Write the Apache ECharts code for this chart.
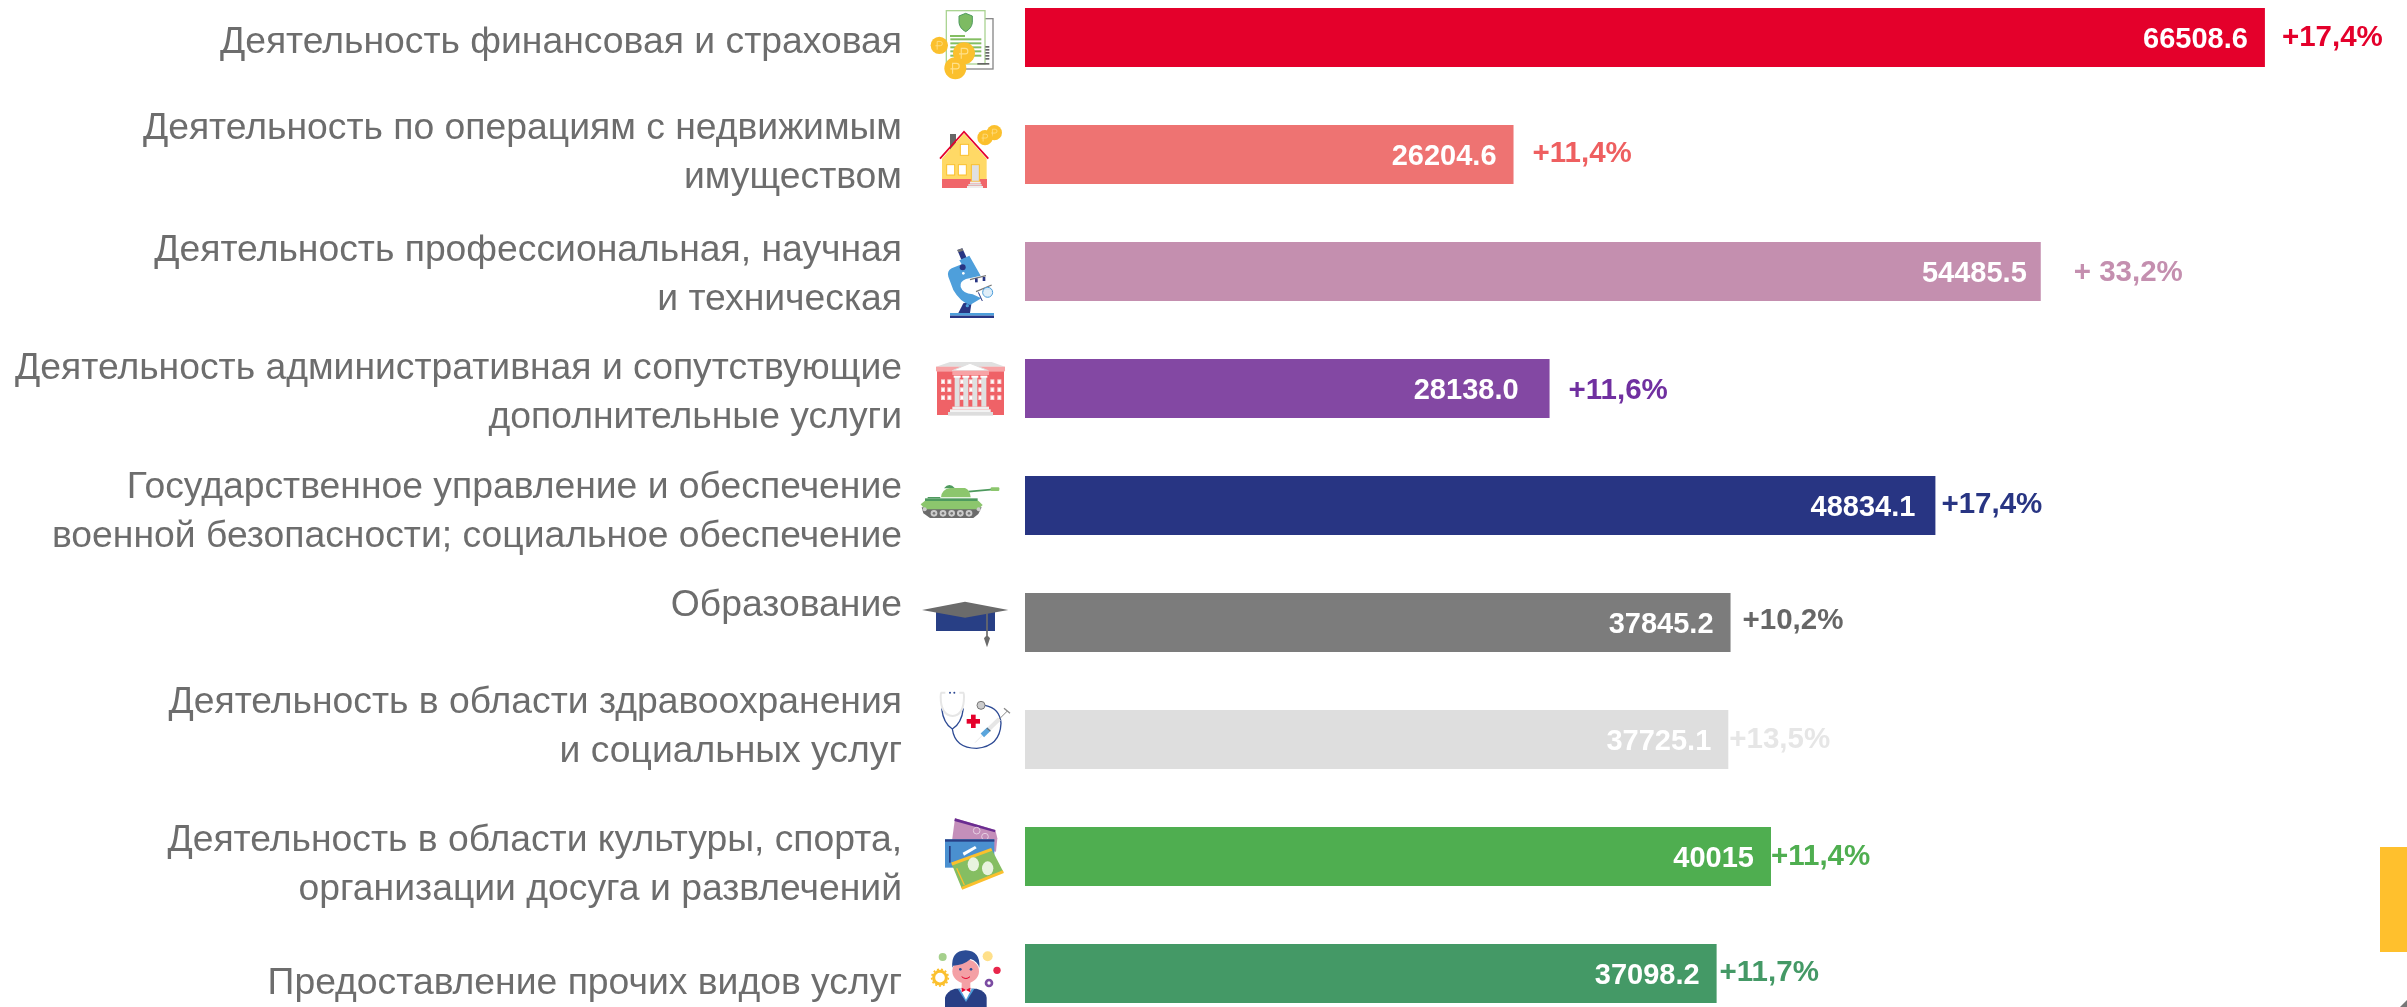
<!DOCTYPE html>
<html><head><meta charset="utf-8">
<style>html,body{margin:0;padding:0;background:#fff}#c{width:2407px;height:1007px}</style>
<script src="https://cdn.jsdelivr.net/npm/echarts@6/dist/echarts.min.js"></script>
</head><body><div id="c"></div>
<script>
const categories = [
 'Деятельность финансовая и страховая',
 'Деятельность по операциям с недвижимым\nимуществом',
 'Деятельность профессиональная, научная\nи техническая',
 'Деятельность административная и сопутствующие\nдополнительные услуги',
 'Государственное управление и обеспечение\nвоенной безопасности; социальное обеспечение',
 'Образование',
 'Деятельность в области здравоохранения\nи социальных услуг',
 'Деятельность в области культуры, спорта,\nорганизации досуга и развлечений',
 'Предоставление прочих видов услуг'
];
const values = [66508.6, 26204.6, 54485.5, 28138.0, 48834.1, 37845.2, 37725.1, 40015, 37098.2];
const valueTexts = ['66508.6','26204.6','54485.5','28138.0','48834.1','37845.2','37725.1','40015','37098.2'];
const growth = ['+17,4%','+11,4%','+ 33,2%','+11,6%','+17,4%','+10,2%','+13,5%','+11,4%','+11,7%'];
const barColors = ['#E4002B','#EE7372','#C48FAF','#8348A3','#283583','#7C7C7C','#DEDEDE','#4FAE50','#449966'];
const growthColors = ['#E4002B','#EE5F60','#C48FAF','#7030A0','#283583','#666666','#E6E6E6','#4FAE50','#449966'];

// layout offsets (pixels, relative to each bar)
const labelDy = [5,-1.5,3.5,5,6.5,-17,-12.5,8.5,10.5];
const valueGap = [17,17,14,31,20,17,17,17,17];
const growthGap = [17,19,33,19,6,12,1,0,3];
const growthDy = [0,-1,1,2,-1,-2,0,0,-1];
const iconBox = [[920,-37.5,100,100],[920,-44.5,100,100],[920,-36.5,100,100],[920,-38.5,100,100],[910,-35.5,110,60],[910,-32.5,110,60],[920,-59.5,100,100],[920,-46.5,100,100],[920,-36.5,100,70]];

const coin=(x,y,r)=>`<circle cx="${x}" cy="${y}" r="${r}" fill="#FBC02D"/><path d="M${x-r*.25} ${y+r*.5}V${y-r*.45}H${x+r*.1}a${r*.25} ${r*.25} 0 0 1 0 ${r*.5}H${x-r*.45}" fill="none" stroke="#FFE08A" stroke-width="${r*.1}"/>`;
const svg=(w,h,b)=>'data:image/svg+xml;charset=utf-8,'+encodeURIComponent(`<svg xmlns="http://www.w3.org/2000/svg" width="${w}" height="${h}" viewBox="0 0 ${w} ${h}">${b}</svg>`);
const rep=(a,f)=>a.map(f).join('');
const icons = [
 svg(300,300,`<rect x="120" y="56" width="99" height="151" fill="#fff" stroke="#888" stroke-width="4"/><rect x="79" y="32" width="116" height="160" fill="#fff" stroke="#ABD493" stroke-width="4"/>
  <path d="M137 40L157 48V68Q155 85 137 95Q119 85 117 68V48Z" fill="#7DBB62" stroke="#4E9A5E" stroke-width="3"/><rect x="90" y="105" width="45" height="6" fill="#84BE62"/>
  ${rep([115,127,139,151,164],y=>`<rect x="91" y="${y}" width="93" height="6" fill="#84BE62"/>`)}${rep([138,147,156,165,174],y=>`<rect x="196" y="${y}" width="12" height="5" fill="#666"/>`)}<rect x="172" y="189" width="36" height="5" fill="#666"/>
  ${coin(58,136,26)}${coin(106,205,33)}${coin(132,160,33)}`),
 svg(300,300,`<rect x="90" y="72" width="18" height="50" fill="#666"/><path d="M66 146L132 70L200 146V208H66Z" fill="#FFD966"/><rect x="66" y="207" width="135" height="27" fill="#F0666A"/>
  <polyline points="60,146 132,65 205,146" fill="none" stroke="#E4002B" stroke-width="5"/>
  ${rep([[121,103,25,33],[80,164,24,31],[115,164,24,31]],r=>`<rect x="${r[0]}" y="${r[1]}" width="${r[2]}" height="${r[3]}" fill="#fff" stroke="#FBC02D" stroke-width="3"/>`)}
  <rect x="154" y="164" width="24" height="50" fill="#E0E0E0" stroke="#FBC02D" stroke-width="3"/><rect x="150" y="215" width="32" height="6" fill="#eee"/><rect x="145" y="222" width="40" height="5" fill="#ddd"/><rect x="141" y="228" width="48" height="6" fill="#eee"/>${coin(223,68,23)}${coin(195,83,23)}`),
 svg(300,300,`<rect x="90" y="234" width="132" height="8" fill="#4E9FDB"/><rect x="90" y="242" width="132" height="7" fill="#283583"/><path d="M115 234L130 205L155 200L150 234Z" fill="#283583"/>
  <path d="M112 45L127 40L140 68L124 74Z" fill="#283583"/><path d="M112 45L127 40L130 47L115 52Z" fill="#777"/>
  <path d="M118 76L148 62L182 122L138 132Q118 140 122 156Q128 175 158 178L184 190L150 210Q120 200 100 165L85 125Q80 108 95 100L125 88Z" fill="#4E9FDB"/><circle cx="128" cy="97" r="9" fill="#283583"/><circle cx="130" cy="115" r="4" fill="#fff"/><circle cx="142" cy="212" r="5" fill="#4E9FDB"/>
  <line x1="150" y1="134" x2="198" y2="122" stroke="#777" stroke-width="4"/><rect x="165" y="130" width="8" height="12" fill="#283583"/><rect x="188" y="126" width="8" height="12" fill="#283583"/><line x1="168" y1="170" x2="215" y2="150" stroke="#777" stroke-width="4"/><line x1="175" y1="172" x2="187" y2="198" stroke="#283583" stroke-width="3"/><circle cx="203" cy="172" r="15" fill="#CFE5F5" stroke="#4E9FDB" stroke-width="3"/><path d="M192 168H214M190 174H216M193 180H212" stroke="#fff" stroke-width="2"/>`),
 svg(300,300,`<path d="M48 50L90 36H215L255 50Z" fill="#E0E0E0"/><rect x="48" y="50" width="207" height="14" fill="#F7A3A5"/><rect x="51" y="64" width="201" height="131" fill="#EF6267"/>
  ${rep([63,82,120,147,175,211,232],x=>rep([88,112,136],y=>`<rect x="${x}" y="${y}" width="12" height="14" fill="#FAD4D5"/><rect x="${x+3}" y="${y+3}" width="6" height="8" fill="#fff"/>`))}
  ${rep([104,130,157,184],x=>`<rect x="${x}" y="80" width="15" height="90" fill="#E0E0E0"/><rect x="${x-3}" y="77" width="21" height="6" fill="#fff"/>`)}
  <path d="M97 62L150 40L205 62Z" fill="#fff" stroke="#E0E0E0" stroke-width="3"/><rect x="97" y="62" width="110" height="13" fill="#F7A3A5"/><rect x="97" y="170" width="110" height="8" fill="#eee"/><rect x="90" y="178" width="122" height="8" fill="#f3f3f3"/><rect x="84" y="186" width="135" height="11" fill="#DDD"/>`),
 svg(330,180,`<line x1="175" y1="65" x2="250" y2="58" stroke="#4E9A5E" stroke-width="5"/><rect x="242" y="52" width="26" height="11" rx="3" fill="#8CC66D"/><path d="M102 55Q118 35 135 55Z" fill="#4E9A5E"/>
  <path d="M93 82Q95 58 120 54L165 54Q180 60 182 82Z" fill="#8CC66D"/><path d="M35 112H215L205 132L190 144H60L40 130Z" fill="#6B6B6B"/><path d="M32 103L45 92H205L218 105L205 118H45Z" fill="#8CC66D"/><rect x="45" y="85" width="158" height="8" fill="#4E9A5E"/><rect x="53" y="81" width="38" height="4" fill="#4E9A5E"/>
  ${rep([72,99,125,151,177],x=>`<circle cx="${x}" cy="130" r="10" fill="#ccc"/><circle cx="${x}" cy="130" r="4" fill="#777"/>`)}<circle cx="44" cy="118" r="6" fill="#ccc"/><circle cx="206" cy="118" r="6" fill="#ccc"/>`),
 svg(330,180,`<rect x="78" y="58" width="177" height="65" fill="#283F85"/><path d="M36 60L165 35L295 60L165 83Z" fill="#6B6B6B"/><line x1="231" y1="70" x2="231" y2="145" stroke="#6B6B6B" stroke-width="5"/><path d="M222 145Q231 130 240 145L231 172Z" fill="#6B6B6B"/>`),
 svg(300,300,`<path d="M65 85Q70 130 97 147Q125 130 130 85M97 147Q105 205 170 205Q240 200 243 130Q240 85 195 76" fill="none" stroke="#2D4A94" stroke-width="4"/><path d="M76 38H64Q62 40 62 50Q62 105 98 108Q132 105 132 50Q132 40 130 38H118" fill="none" stroke="#E6E6E6" stroke-width="6"/><circle cx="90" cy="38" r="3" fill="#2D4A94"/><circle cx="103" cy="38" r="3" fill="#2D4A94"/><circle cx="183" cy="76" r="12" fill="#ccc" stroke="#777" stroke-width="3"/>
  <rect x="140" y="117" width="40" height="14" fill="#E4002B"/><rect x="153" y="104" width="14" height="40" fill="#E4002B"/>
  <g fill="none"><path d="M165 188L188 165" stroke="#ddd" stroke-width="2"/><path d="M188 165L238 117" stroke="#e6e6e6" stroke-width="13"/><path d="M187 166L207 147" stroke="#5AA5DC" stroke-width="15"/><path d="M205 150L213 140" stroke="#666" stroke-width="14" stroke-dasharray="3 20"/><path d="M238 117L262 93" stroke="#888" stroke-width="3"/><path d="M252 85L270 100" stroke="#888" stroke-width="4"/></g>`),
 svg(300,300,`<path d="M105 25L226 60L232 85L228 125L95 100Z" fill="#C48FBA"/><path d="M105 25L226 60L225 67L103 33Z" fill="#6A2C91"/><circle cx="170" cy="62" r="10" fill="none" stroke="#E6CFE2" stroke-width="3"/><circle cx="195" cy="80" r="10" fill="none" stroke="#E6CFE2" stroke-width="3"/>
  <rect x="75" y="88" width="148" height="85" fill="#4A90D0"/><rect x="75" y="88" width="148" height="7" fill="#283F85"/><rect x="87" y="108" width="5" height="50" fill="#283F85"/><path d="M128 128L165 108L170 115L132 137Z" fill="#fff"/>
  <path d="M95 162L215 118L250 185L125 235Z" fill="#85BE62"/><path d="M95 162L215 118" stroke="#FBC02D" stroke-width="9"/><path d="M125 235L250 185" stroke="#FBC02D" stroke-width="9"/><path d="M110 175L133 225" stroke="#FBC02D" stroke-width="4"/><ellipse cx="160" cy="163" rx="17" ry="21" fill="#E8F3DF"/><ellipse cx="203" cy="175" rx="17" ry="21" fill="#E8F3DF"/>`),
 svg(300,210,`<circle cx="60" cy="122" r="19" fill="none" stroke="#FBC02D" stroke-width="9"/><circle cx="60" cy="122" r="25" fill="none" stroke="#FBC02D" stroke-width="5" stroke-dasharray="6 6"/><circle cx="68" cy="60" r="12" fill="#A5D08C"/><circle cx="203" cy="58" r="15" fill="#FFE08A"/><circle cx="231" cy="100" r="11" fill="#E4002B" opacity=".85"/><circle cx="207" cy="138" r="13" fill="#7B4BA2"/><circle cx="207" cy="138" r="5" fill="#fff"/>
  <path d="M75 210V182Q80 162 105 155H170Q198 162 200 182V210Z" fill="#283F85"/><path d="M113 155H163L138 195Z" fill="#4E9FDB"/><path d="M120 155H155L138 188Z" fill="#fff"/><rect x="125" y="132" width="26" height="24" fill="#F4A0A5"/><path d="M125 152L138 158L151 152V166L138 159L125 166Z" fill="#E4002B"/>
  <ellipse cx="137" cy="103" rx="40" ry="36" fill="#F4A0A5"/><path d="M97 92Q92 42 137 40Q182 42 178 92Q172 72 152 66Q130 85 100 86Z" fill="#2B4C95"/><circle cx="121" cy="97" r="4" fill="#2B4C95"/><circle cx="153" cy="97" r="4" fill="#2B4C95"/><path d="M125 119Q138 130 150 119" fill="none" stroke="#E4002B" stroke-width="3"/>`)
];

const chart = echarts.init(document.getElementById('c'), null, {renderer:'canvas'});
const font = '"Liberation Sans", Arial, sans-serif';
chart.setOption({
  animation:false,
  backgroundColor:'#fff',
  grid:{left:1025, width:1305, top:37.5, height:936, containLabel:false},
  xAxis:{type:'value', min:0, max:70000, show:false},
  yAxis:{type:'category', inverse:true, boundaryGap:false, data:categories, show:false},
  graphic:[
    {type:'rect', shape:{x:2380,y:847,width:27,height:105}, style:{fill:'#FFC02D'}},
    {type:'polygon', shape:{points:[[2407,1000],[2407,1007],[2400,1007]]}, style:{fill:'#777'}}
  ],
  series:[
   {type:'bar', barWidth:59, silent:true, clip:false,
    data:values.map((v,i)=>({value:v,itemStyle:{color:barColors[i]},
      label:{distance:valueGap[i]}})),
    label:{show:true, position:'insideRight', offset:[0,2], color:'#fff', fontFamily:font, fontWeight:'bold', fontSize:29,
      formatter:p=>valueTexts[p.dataIndex]}},
   {type:'custom', silent:true, clip:false, z:5,
    data:values.map((v,i)=>[v,i]), encode:{x:0,y:1},
    renderItem:(params,api)=>{
      const i=params.dataIndex, end=api.coord([api.value(0),i]), cy=end[1], b=iconBox[i];
      return {type:'group',children:[
        {type:'text', style:{x:902,y:cy+labelDy[i],text:categories[i],align:'right',verticalAlign:'middle',fill:'#6D6D6D',fontFamily:font,fontSize:37.3,lineHeight:49}},
        {type:'image', style:{image:icons[i],x:b[0],y:cy+b[1],width:b[2],height:b[3]}},
        {type:'text', style:{x:end[0]+growthGap[i],y:cy+growthDy[i],text:growth[i],align:'left',verticalAlign:'middle',fill:growthColors[i],fontFamily:font,fontWeight:'bold',fontSize:29.5}}
      ]};
    }}
  ]
});
</script></body></html>
